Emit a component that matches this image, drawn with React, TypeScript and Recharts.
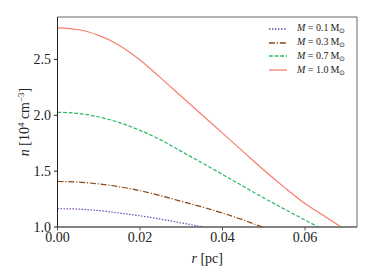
import React from "react";
import {
  LineChart,
  Line,
  XAxis,
  YAxis,
  ReferenceArea,
  Label,
} from "recharts";

const radius = [0, 0.005, 0.01, 0.015, 0.02, 0.025, 0.03, 0.035, 0.04, 0.045, 0.05, 0.055, 0.06, 0.065, 0.07];

const m01 = [1.164, 1.16, 1.147, 1.125, 1.1, 1.07, 1.037, 1.002, 0.965];
const m03 = [1.408, 1.402, 1.386, 1.36, 1.325, 1.28, 1.23, 1.18, 1.125, 1.063, 0.995, 0.93];
const m07 = [2.027, 2.017, 1.985, 1.935, 1.865, 1.78, 1.677, 1.575, 1.47, 1.365, 1.26, 1.16, 1.062, 0.967, 0.88];
const m10 = [2.783, 2.768, 2.715, 2.625, 2.495, 2.335, 2.17, 2.005, 1.84, 1.675, 1.51, 1.355, 1.21, 1.09, 0.97];

const xTicks = [0, 0.02, 0.04, 0.06];
const yTicks = [1.0, 1.5, 2.0, 2.5];
const masses = ["0.1", "0.3", "0.7", "1.0"];

const data = radius.map((r, i) => ({
  r,
  m01: m01[i],
  m03: m03[i],
  m07: m07[i],
  m10: m10[i],
}));

const font = "Liberation Serif";

const series = [
  { key: "m01", color: "#6a3fb5", dash: "1.4 1.6" },
  { key: "m03", color: "#8b4513", dash: "6 1.8 1.2 1.8" },
  { key: "m07", color: "#2fb865", dash: "3.8 1.8" },
  { key: "m10", color: "#f87d6f", dash: undefined },
];

const LegendBox = () => (
  <div style={{ position: "absolute", left: 268, top: 22, fontFamily: font, fontSize: 10, color: "#222" }}>
    {series.map((s, i) => (
      <div key={s.key} style={{ display: "flex", alignItems: "center", height: 13.8, whiteSpace: "nowrap" }}>
        <svg width={20} height={6} style={{ marginRight: 9 }}>
          <line x1={1} y1={3} x2={19} y2={3} stroke={s.color} strokeWidth={1.3} strokeDasharray={s.dash} />
        </svg>
        <span>
          <i>M</i> = {masses[i]}&thinsp;M<sub style={{ fontSize: 6.5, verticalAlign: -2 }}>⊙</sub>
        </span>
      </div>
    ))}
  </div>
);

const XLabel = (props: any) => {
  const vb = props.viewBox;
  return (
    <text x={vb.x + vb.width / 2} y={263} textAnchor="middle" fontFamily={font} fontSize={14} fill="#222">
      <tspan fontStyle="italic">r</tspan>
      <tspan> [pc]</tspan>
    </text>
  );
};

const YLabel = (props: any) => {
  const vb = props.viewBox;
  const cy = vb.y + vb.height / 2;
  return (
    <text
      x={29}
      y={cy}
      transform={`rotate(-90 29 ${cy})`}
      textAnchor="middle"
      fontFamily={font}
      fontSize={14}
      fill="#222"
    >
      <tspan fontStyle="italic">n</tspan>
      <tspan> [10</tspan>
      <tspan fontSize={9} dy={-5}>4</tspan>
      <tspan dy={5}> cm</tspan>
      <tspan fontSize={9} dy={-5}>−3</tspan>
      <tspan dy={5}>]</tspan>
    </text>
  );
};

export default function App() {
  return (
    <div style={{ margin: -8, width: 374, height: 280, background: "#fff", position: "relative", fontFamily: font }}>
      <LineChart width={374} height={280} data={data} margin={{ top: 17, right: 17, left: 0, bottom: 0 }}>
        <ReferenceArea x1={0} x2={0.0726} y1={1} y2={2.88} fill="none" stroke="#666" strokeWidth={1} ifOverflow="visible" />
        <XAxis
          dataKey="r"
          type="number"
          domain={[0, 0.0726]}
          ticks={xTicks}
          allowDataOverflow
          tickFormatter={(v: number) => v.toFixed(2)}
          height={53}
          tickSize={3.5}
          tickMargin={2}
          stroke="#555"
          tick={{ fill: "#222", fontFamily: font, fontSize: 14 }}
        >
          <Label content={XLabel} />
        </XAxis>
        <YAxis
          type="number"
          domain={[1, 2.88]}
          ticks={yTicks}
          allowDataOverflow
          tickFormatter={(v: number) => v.toFixed(1)}
          width={57.5}
          tickSize={3.5}
          tickMargin={3}
          stroke="#222"
          tick={{ fill: "#222", fontFamily: font, fontSize: 14 }}
        >
          <Label content={YLabel} />
        </YAxis>
        {series.map((s) => (
          <Line
            key={s.key}
            dataKey={s.key}
            type="monotone"
            stroke={s.color}
            strokeWidth={1.2}
            strokeDasharray={s.dash}
            dot={false}
            activeDot={false}
            isAnimationActive={false}
          />
        ))}
      </LineChart>
      <LegendBox />
    </div>
  );
}
